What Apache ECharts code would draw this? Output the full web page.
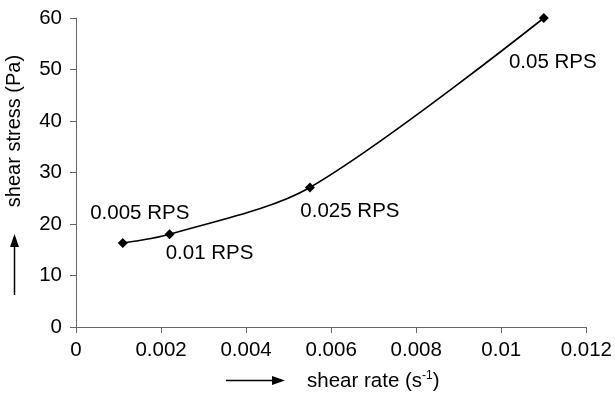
<!DOCTYPE html>
<html>
<head>
<meta charset="utf-8">
<script src="https://cdn.jsdelivr.net/npm/echarts@6/dist/echarts.min.js"></script>
<style>
  html, body { margin: 0; padding: 0; background: #fff; }
  #main { width: 615px; height: 394px; }
</style>
</head>
<body>
<div id="main"></div>
<script>
// data
const shearRate = [0.0011, 0.0022, 0.0055, 0.011];
const shearStress = [16.3, 18.0, 27.1, 60];
const rpsLabels = ['0.005 RPS', '0.01 RPS', '0.025 RPS', '0.05 RPS'];

// where each point label sits relative to its marker (layout only)
const labelOffsets = [[17, -30], [40, 19], [40, 24], [9, 44]];

const font = 'Liberation Sans, Arial, sans-serif';

const chart = echarts.init(document.getElementById('main'));

const seriesData = shearRate.map((x, i) => ({
  value: [x, shearStress[i]],
  label: {
    show: true,
    formatter: rpsLabels[i],
    position: 'inside',
    offset: labelOffsets[i]
  }
}));

chart.setOption({
  animation: false,
  textStyle: { fontFamily: font },
  grid: { left: 76, right: 20, top: 18, bottom: 67 },
  xAxis: {
    type: 'value',
    min: 0,
    max: 0.012,
    interval: 0.002,
    axisLine: { show: true, lineStyle: { color: '#666', width: 1 } },
    axisTick: { show: true, length: 6, lineStyle: { color: '#666' } },
    axisLabel: { color: '#000', fontSize: 20.5, margin: 13, fontFamily: font },
    splitLine: { show: false }
  },
  yAxis: {
    type: 'value',
    min: 0,
    max: 60,
    interval: 10,
    axisLine: { show: true, lineStyle: { color: '#666', width: 1 } },
    axisTick: { show: true, length: 6, lineStyle: { color: '#666' } },
    axisLabel: { color: '#000', fontSize: 20.5, margin: 14, fontFamily: font },
    splitLine: { show: false }
  },
  series: [
    {
      type: 'line',
      data: seriesData,
      smooth: 0.3,
      symbol: 'diamond',
      symbolSize: 10,
      itemStyle: { color: '#000' },
      lineStyle: { color: '#000', width: 1.6 },
      label: { color: '#000', fontSize: 20.5, fontFamily: font }
    }
  ],
  graphic: [
    {
      type: 'text',
      x: 14,
      y: 131,
      rotation: Math.PI / 2,
      style: {
        text: 'shear stress (Pa)',
        fill: '#000',
        font: '20px ' + font,
        align: 'center',
        verticalAlign: 'middle'
      }
    },
    // up arrow beside the y title
    {
      type: 'line',
      shape: { x1: 14.5, y1: 295, x2: 14.5, y2: 244 },
      style: { stroke: '#000', lineWidth: 1.5 }
    },
    {
      type: 'polygon',
      shape: { points: [[14.5, 234], [10, 247], [19, 247]] },
      style: { fill: '#000' }
    },
    // right arrow before the x title
    {
      type: 'line',
      shape: { x1: 226, y1: 380.5, x2: 274, y2: 380.5 },
      style: { stroke: '#000', lineWidth: 1.5 }
    },
    {
      type: 'polygon',
      shape: { points: [[285, 380.5], [272, 376], [272, 385]] },
      style: { fill: '#000' }
    },
    {
      type: 'text',
      x: 307,
      y: 381,
      style: {
        text: 'shear rate (s{sup|-1})',
        fill: '#000',
        font: '20.5px ' + font,
        verticalAlign: 'middle',
        rich: {
          sup: { fontSize: 12, verticalAlign: 'top', padding: [0, 0, 10, 0], fontFamily: font }
        }
      }
    }
  ]
});
</script>
</body>
</html>
